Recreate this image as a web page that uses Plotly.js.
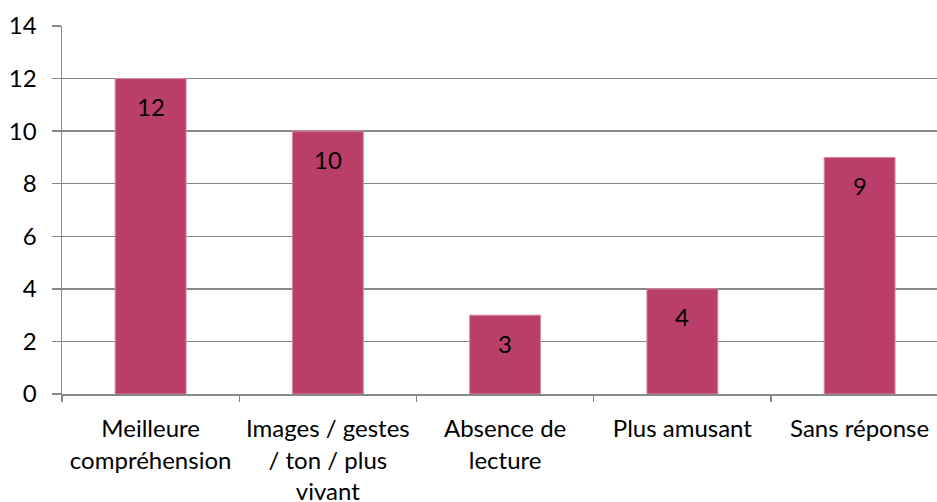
<!DOCTYPE html>
<html>
<head>
<meta charset="utf-8">
<script src="https://cdn.plot.ly/plotly-3.0.1.min.js"></script>
<style>html,body{margin:0;padding:0;background:#fff;}#chart{width:937px;height:502px;}</style>
</head>
<body>
<div id="chart"></div>
<script>
const categories = ["Meilleure<br>compréhension", "Images / gestes<br>/ ton / plus<br>vivant", "Absence de<br>lecture", "Plus amusant", "Sans réponse"];
const values = [12, 10, 3, 4, 9];
const yTicks = [0, 2, 4, 6, 8, 10, 12, 14];

const FONT = "Lato, 'Open Sans', sans-serif";
const barColor = "#B93E69";
const gridColor = "#888888";

const trace = {
  type: "bar",
  x: categories,
  y: values,
  marker: {color: barColor, line: {color: "#D98AA6", width: 1}},
  hoverinfo: "none"
};

const annotations = categories.map((c, i) => ({
  x: c, y: values[i], xref: "x", yref: "y",
  text: String(values[i]), showarrow: false,
  yanchor: "middle", yshift: -28,
  font: {family: FONT, size: 24, color: "#000"}
}));

const layout = {
  width: 937, height: 502,
  margin: {l: 62, r: 0, t: 26, b: 108},
  paper_bgcolor: "#fff", plot_bgcolor: "#fff",
  showlegend: false,
  bargap: 0.6,
  font: {family: FONT, size: 24, color: "#000"},
  xaxis: {
    type: "category",
    range: [-0.5, 4.4366],
    showline: true, linecolor: gridColor, linewidth: 1.5,
    ticks: "outside", tickson: "boundaries", ticklen: 6, tickcolor: gridColor, tickwidth: 1.5,
    ticklabelstandoff: 13,
    showgrid: false,
    tickfont: {family: FONT, size: 24, color: "#000"}
  },
  yaxis: {
    range: [0, 14],
    tickvals: yTicks,
    ticktext: yTicks.map(String),
    showline: true, linecolor: gridColor, linewidth: 1.5,
    ticks: "outside", ticklen: 9, tickcolor: gridColor, tickwidth: 1.5,
    ticklabelstandoff: 10,
    showgrid: true, gridcolor: gridColor, gridwidth: 1.5,
    zeroline: false,
    tickfont: {family: FONT, size: 24, color: "#000"}
  },
  annotations: annotations
};

Plotly.newPlot("chart", [trace], layout, {staticPlot: true, displayModeBar: false});
</script>
</body>
</html>
